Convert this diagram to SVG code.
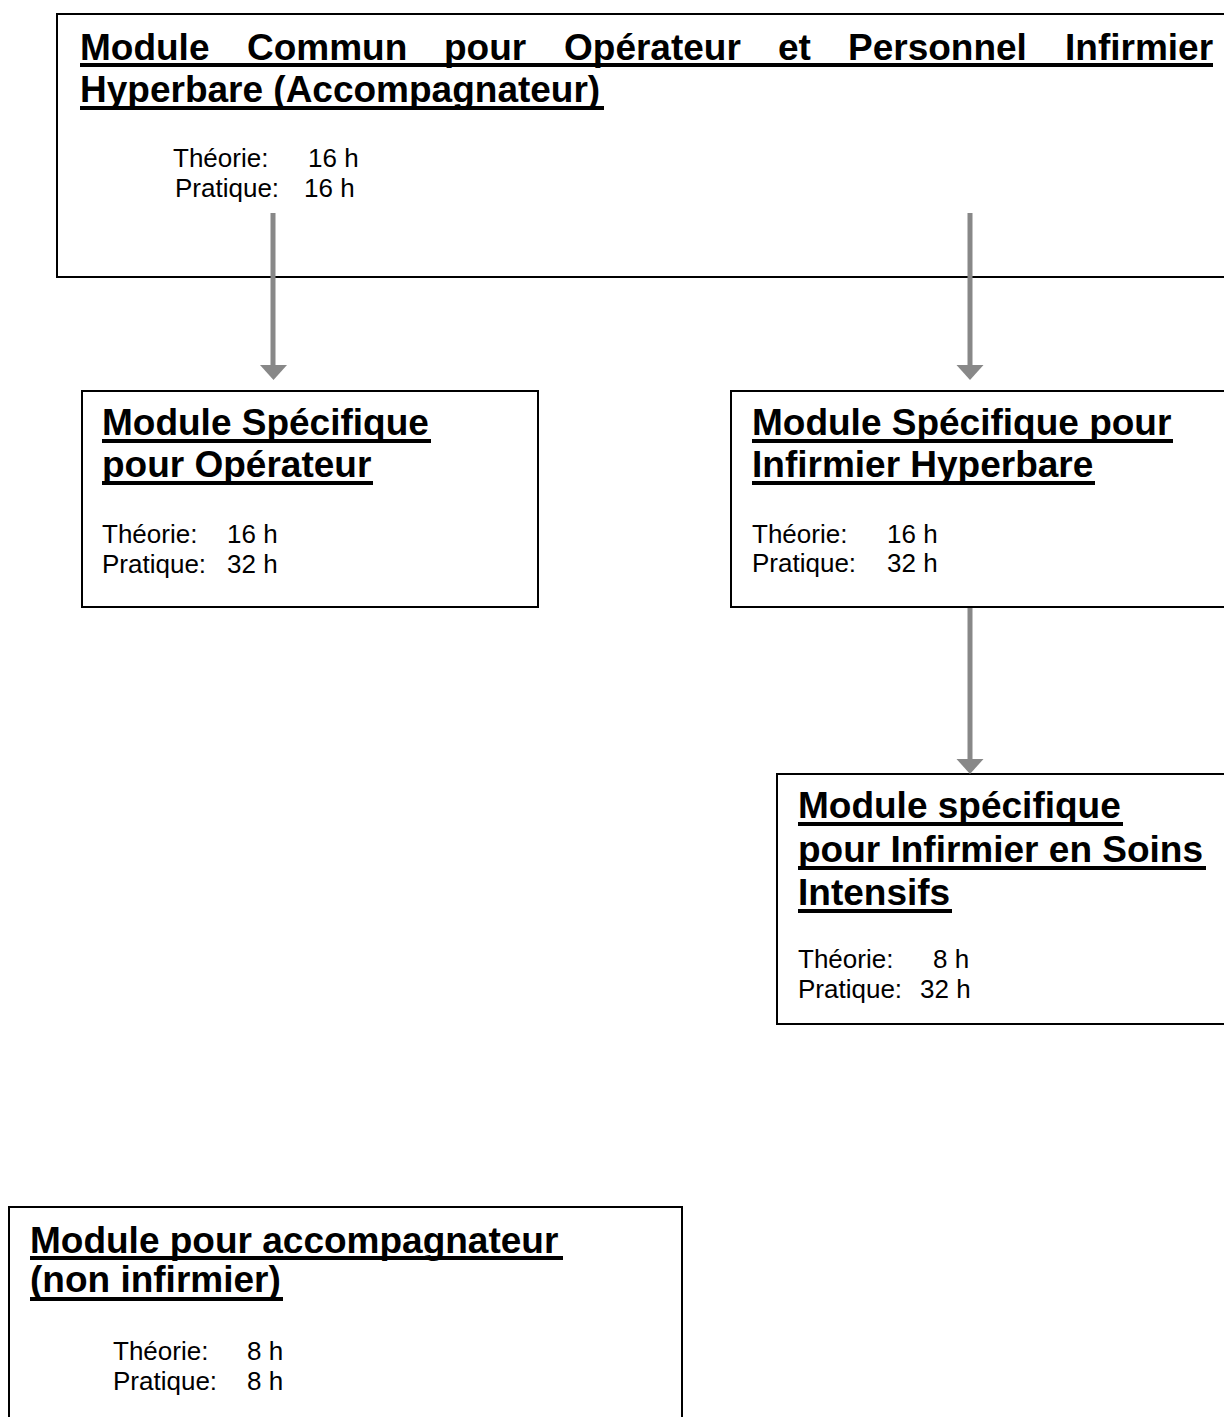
<svg xmlns="http://www.w3.org/2000/svg" width="1224" height="1417" viewBox="0 0 1224 1417">
<style>
.box{fill:#ffffff;stroke:#000000;stroke-width:2}
.title{font-family:"Liberation Sans",Arial,sans-serif;font-weight:bold;font-size:37px;fill:#000000}
.body{font-family:"Liberation Sans",Arial,sans-serif;font-size:26px;fill:#000000}
.ul{stroke:#000000;stroke-width:4}
.conn{stroke:#888888;stroke-width:5;fill:none}
.head{fill:#888888}
</style>
<rect x="0" y="0" width="1224" height="1417" fill="#ffffff"/>
<g id="node-commun">
<rect class="box" x="57" y="14" width="1190" height="263"/>
<text class="title" y="60"><tspan x="80">Module</tspan><tspan x="247">Commun</tspan><tspan x="444">pour</tspan><tspan x="564">Opérateur</tspan><tspan x="778">et</tspan><tspan x="848">Personnel</tspan><tspan x="1065">Infirmier</tspan></text>
<line class="ul" x1="80" y1="65" x2="1213" y2="65"/>
<text class="title" x="80" y="102">Hyperbare (Accompagnateur)</text>
<line class="ul" x1="80" y1="108" x2="604" y2="108"/>
<text class="body" y="167"><tspan x="173">Théorie:</tspan><tspan x="308">16 h</tspan></text>
<text class="body" y="197"><tspan x="175">Pratique:</tspan><tspan x="304">16 h</tspan></text>
</g>
<g id="node-operateur">
<rect class="box" x="82" y="391" width="456" height="216"/>
<text class="title" x="102" y="435">Module Spécifique</text>
<line class="ul" x1="102" y1="441" x2="431" y2="441"/>
<text class="title" x="102" y="477">pour Opérateur</text>
<line class="ul" x1="102" y1="483" x2="373" y2="483"/>
<text class="body" y="543"><tspan x="102">Théorie:</tspan><tspan x="227">16 h</tspan></text>
<text class="body" y="573"><tspan x="102">Pratique:</tspan><tspan x="227">32 h</tspan></text>
</g>
<g id="node-infirmier-hyperbare">
<rect class="box" x="731" y="391" width="520" height="216"/>
<text class="title" x="752" y="435">Module Spécifique pour</text>
<line class="ul" x1="752" y1="441" x2="1173" y2="441"/>
<text class="title" x="752" y="477">Infirmier Hyperbare</text>
<line class="ul" x1="752" y1="483" x2="1095" y2="483"/>
<text class="body" y="543"><tspan x="752">Théorie:</tspan><tspan x="887">16 h</tspan></text>
<text class="body" y="572"><tspan x="752">Pratique:</tspan><tspan x="887">32 h</tspan></text>
</g>
<g id="node-soins-intensifs">
<rect class="box" x="777" y="774" width="470" height="250"/>
<text class="title" x="798" y="818">Module spécifique</text>
<line class="ul" x1="798" y1="824" x2="1123" y2="824"/>
<text class="title" x="798" y="862">pour Infirmier en Soins</text>
<line class="ul" x1="798" y1="868" x2="1206" y2="868"/>
<text class="title" x="798" y="905">Intensifs</text>
<line class="ul" x1="798" y1="911" x2="952" y2="911"/>
<text class="body" y="968"><tspan x="798">Théorie:</tspan><tspan x="933">8 h</tspan></text>
<text class="body" y="998"><tspan x="798">Pratique:</tspan><tspan x="920">32 h</tspan></text>
</g>
<g id="node-accompagnateur">
<rect class="box" x="9" y="1207" width="673" height="240"/>
<text class="title" x="30" y="1253">Module pour accompagnateur</text>
<line class="ul" x1="30" y1="1258" x2="563" y2="1258"/>
<text class="title" x="30" y="1292">(non infirmier)</text>
<line class="ul" x1="30" y1="1299" x2="283" y2="1299"/>
<text class="body" y="1360"><tspan x="113">Théorie:</tspan><tspan x="247">8 h</tspan></text>
<text class="body" y="1390"><tspan x="113">Pratique:</tspan><tspan x="247">8 h</tspan></text>
</g>
<g id="connectors">
<line class="conn" x1="273" y1="213" x2="273" y2="366"/>
<polygon class="head" points="260,365 287,365 273.5,380"/>
<line class="conn" x1="970" y1="213" x2="970" y2="366"/>
<polygon class="head" points="956.5,365 983.5,365 970,380"/>
<line class="conn" x1="970" y1="608" x2="970" y2="760"/>
<polygon class="head" points="956.5,759 983.5,759 970,774"/>
</g>
</svg>
